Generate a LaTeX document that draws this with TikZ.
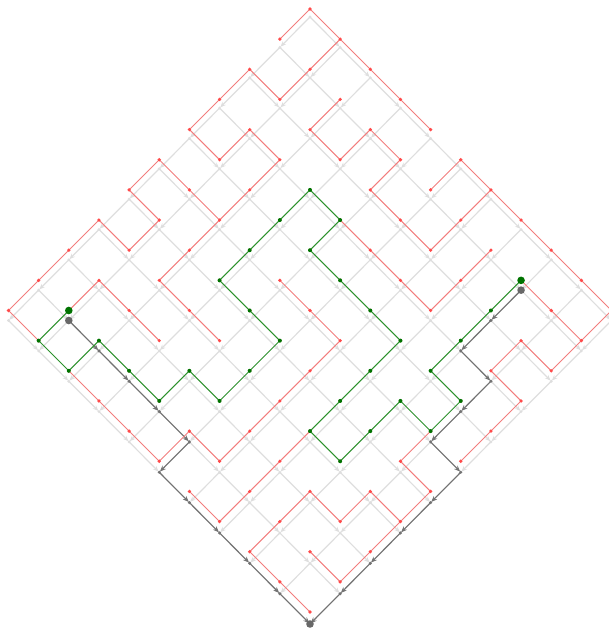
\documentclass[tikz,border=0pt]{standalone}
\usetikzlibrary{arrows.meta}
\definecolor{treered}{RGB}{242,125,125}
\definecolor{dotred}{RGB}{255,75,75}
\definecolor{pathgreen}{RGB}{45,145,45}
\definecolor{dotgreen}{RGB}{0,115,0}
\definecolor{latgrey}{RGB}{222,222,222}
\definecolor{darkgrey}{RGB}{115,115,115}
\tikzset{
  greyedge/.style={latgrey,line width=1.2pt,-{Stealth[length=5.5pt,width=4.5pt]},shorten >=1pt},
  darkedge/.style={darkgrey,line width=1.1pt,-{Stealth[length=6pt,width=4.8pt]},shorten >=1pt},
  treeedge/.style={treered,line width=1pt},
  pathedge/.style={pathgreen,line width=1pt,line join=round}
}
\begin{document}
\begin{tikzpicture}[x=1pt,y=-1pt]
\useasboundingbox (0,0) rectangle (608,628);
\foreach \i in {0,...,10}{
  \foreach \j in {0,...,10}{
    \pgfmathsetmacro{\xx}{310+30.15*(\i-\j)}
    \pgfmathsetmacro{\yy}{9+30.15*(\i+\j)}
    \pgfmathsetmacro{\yg}{17+30.35*(\i+\j)}
    \coordinate (r-\i-\j) at (\xx,\yy);
    \coordinate (g-\i-\j) at (\xx,\yg);
  }
}
% grey directed lattice
\foreach \i in {0,...,10}{
  \foreach \j in {0,...,10}{
    \pgfmathtruncatemacro{\ip}{\i+1}
    \pgfmathtruncatemacro{\jp}{\j+1}
    \ifnum\i<10 \draw[greyedge] (g-\i-\j) -- (g-\ip-\j);\fi
    \ifnum\j<10 \draw[greyedge] (g-\i-\j) -- (g-\i-\jp);\fi
    \fill[latgrey] (g-\i-\j) circle[radius=1.6pt];
  }
}
% dark paths
\foreach \a/\b/\c/\d in {1/9/2/9,2/9/3/9,3/9/4/9,4/9/5/9,5/9/5/10,5/10/6/10,6/10/7/10,7/10/8/10,8/10/9/10,9/10/10/10,
  8/1/8/2,8/2/8/3,8/3/9/3,9/3/9/4,9/4/9/5,9/5/10/5,10/5/10/6,10/6/10/7,10/7/10/8,10/8/10/9,10/9/10/10}{
  \draw[darkedge] (g-\a-\b) -- (g-\c-\d);
  \fill[darkgrey] (g-\a-\b) circle[radius=1.7pt];
}
\fill[darkgrey!90!black] (g-1-9) circle[radius=3.8pt];
\fill[darkgrey!90!black] (g-8-1) circle[radius=3.8pt];
\fill[darkgrey!90!black] (g-10-10) circle[radius=3.8pt];
% red tree
\foreach \a/\b/\c/\d in {0/0/0/1,0/0/1/0,1/0/1/1,1/0/2/0,0/2/0/3,0/2/1/2,1/1/1/2,2/0/3/0,
  0/3/0/4,2/1/2/2,3/0/4/0,0/4/1/4,1/3/1/4,1/3/2/3,2/2/3/2,3/1/3/2,3/1/4/1,
  0/5/0/6,0/5/1/5,2/3/2/4,4/1/4/2,5/0/5/1,5/0/6/0,
  0/6/1/6,1/5/2/5,2/4/2/5,4/2/5/2,6/0/6/1,6/0/7/0,
  0/7/0/8,0/7/1/7,1/6/1/7,2/5/2/6,4/3/5/3,5/2/6/2,6/1/6/2,7/0/8/0,
  0/8/0/9,2/6/2/7,5/3/6/3,7/1/7/2,8/0/9/0,
  0/9/0/10,1/8/1/9,1/8/2/8,2/7/3/7,4/5/5/5,6/3/7/3,7/2/7/3,9/0/10/0,8/1/9/1,
  0/10/1/10,2/8/3/8,3/7/4/7,5/5/6/5,9/1/10/1,10/0/10/1,
  6/5/6/6,10/1/10/2,9/2/10/2,9/2/9/3,
  2/10/3/10,6/6/6/7,9/3/10/3,
  3/10/4/10,6/7/6/8,10/3/10/4,
  4/10/5/10,5/9/5/10,5/9/6/9,6/8/6/9,7/7/7/8,9/5/9/6,10/4/10/5,
  7/8/7/9,9/6/10/6,
  7/9/7/10,6/10/7/10,8/8/8/9,8/8/9/8,9/7/9/8,9/7/10/7,10/6/10/7,
  8/9/8/10,10/7/10/8,
  8/10/9/10,9/9/10/9,10/8/10/9,
  9/10/10/10}{
  \draw[treeedge] (r-\a-\b) -- (r-\c-\d);
}
% green path
\draw[pathedge] (r-1-9) -- (r-1-10) -- (r-2-10) -- (r-2-9) -- (r-3-9) -- (r-4-9) -- (r-4-8) -- (r-5-8)
  -- (r-5-7) -- (r-5-6) -- (r-4-6) -- (r-3-6) -- (r-3-5) -- (r-3-4) -- (r-3-3) -- (r-4-3) -- (r-4-4)
  -- (r-5-4) -- (r-6-4) -- (r-7-4) -- (r-7-5) -- (r-7-6) -- (r-7-7) -- (r-8-7) -- (r-8-6) -- (r-8-5)
  -- (r-9-5) -- (r-9-4) -- (r-8-4) -- (r-8-3) -- (r-8-2) -- (r-8-1);
% dots
\foreach \i in {0,...,10}{
  \foreach \j in {0,...,10}{
    \fill[dotred] (r-\i-\j) circle[radius=1.8pt];
  }
}
\foreach \a/\b in {1/9,1/10,2/10,2/9,3/9,4/9,4/8,5/8,5/7,5/6,4/6,3/6,3/5,3/4,3/3,4/3,4/4,5/4,6/4,7/4,7/5,7/6,7/7,8/7,8/6,8/5,9/5,9/4,8/4,8/3,8/2,8/1}{
  \fill[dotgreen] (r-\a-\b) circle[radius=2pt];
}
\fill[dotgreen] (r-1-9) circle[radius=3.8pt];
\fill[dotgreen] (r-8-1) circle[radius=3.8pt];
\end{tikzpicture}
\end{document}
